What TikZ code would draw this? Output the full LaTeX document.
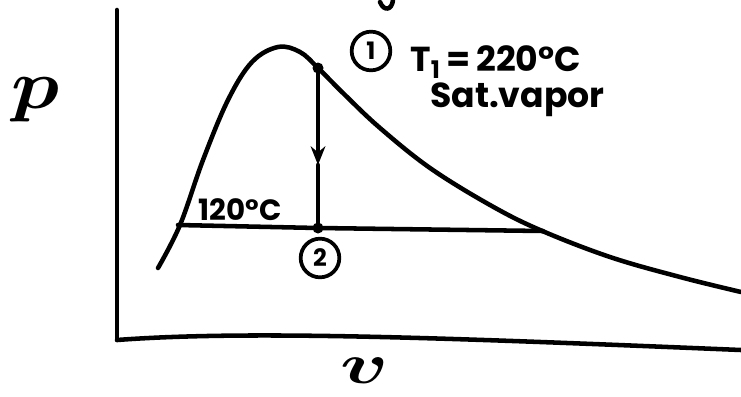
\documentclass[tikz,border=0pt]{standalone}
\usepackage{amsmath,amssymb}
\usepackage{graphicx}
\usepackage{fontspec}
\setsansfont{Poppins}
\usetikzlibrary{arrows.meta}
\begin{document}
\begin{tikzpicture}[x=0.75pt,y=-0.75pt,
  ink/.style={line width=3.4pt,line cap=round,line join=round},
  statelabel/.style={circle,draw,line width=2.8pt,inner sep=0pt,minimum size=29pt,font=\sffamily\bfseries\fontsize{18}{18}\selectfont},
  hand/.style={font=\sffamily\bfseries\fontsize{26}{28}\selectfont,inner sep=0pt}]
\useasboundingbox (0,0) rectangle (741,396);
% axes
\coordinate (top) at (117,10);
\coordinate (origin) at (117,340);
\coordinate (xend) at (741,350);
\draw[ink] (top) -- (origin);
\draw[ink] (origin) .. controls (250,330) and (450,338) .. (xend);
% dome
\draw[ink] plot[smooth,tension=0.6] coordinates {(158,268) (180,225) (203,160) (228,100) (252,62) (278,47) (300,52) (318,68) (345,95) (380,128) (430,168) (490,205) (540,230) (610,257) (680,277) (741,292)};
% states
\coordinate (p1) at (318,68);
\coordinate (p2) at (318,228);
\coordinate (mid) at (318,165);
\coordinate (hl) at (178,225);
\coordinate (hr) at (543,231);
\draw[ink] (hl) -- (p2) -- (hr);
\draw[ink,-{Stealth[length=14pt,width=11pt]}] (p1) -- (mid);
\draw[ink] (mid) -- (p2);
\fill (p1) circle (5.5);
\fill (p2) circle (5.5);
% labels
\node[statelabel] (c1) at (371,51) {1};
\node[statelabel] (c2) at (320,258) {2};
\node[hand,anchor=west] (t1) at (410,62) {T\textsubscript{1}\,=\,220\textdegree C};
\node[hand,anchor=west] (sv) at (430,100) {Sat.vapor};
\node[hand,font=\sffamily\bfseries\fontsize{22}{24}\selectfont] (t2) at (240,210) {120\textdegree C};
\node[inner sep=0pt] (P) at (36,100) {\scalebox{6}[5.2]{$\boldsymbol{p}$}};
\node[inner sep=0pt] (V) at (365,371) {\scalebox{6}[4.3]{$\boldsymbol{v}$}};
% fragment at top
\draw[ink] (380,2) .. controls (384,12) and (392,10) .. (393,0);
\end{tikzpicture}
\end{document}
